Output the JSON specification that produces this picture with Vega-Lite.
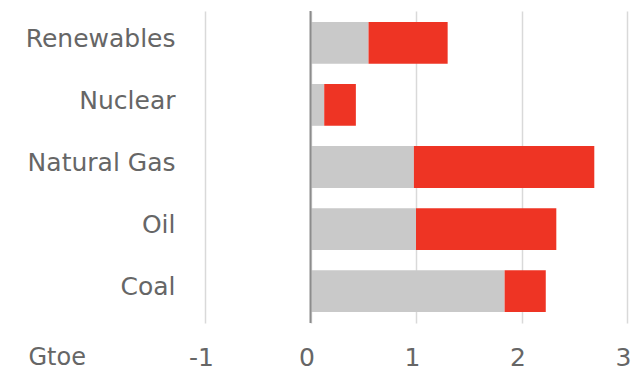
{
  "$schema": "https://vega.github.io/schema/vega-lite/v6.json",
  "width": 422,
  "height": 312,
  "autosize": {"type": "none"},
  "padding": {"left": 205, "top": 11, "right": 13, "bottom": 48},
  "config": {"view": {"stroke": null}, "font": "DejaVu Sans"},
  "data": {
    "values": [
      {"source": "Renewables", "series": "Base", "order": 1, "value": 0.55},
      {"source": "Renewables", "series": "Increase", "order": 2, "value": 0.75},
      {"source": "Nuclear", "series": "Base", "order": 1, "value": 0.13},
      {"source": "Nuclear", "series": "Increase", "order": 2, "value": 0.30},
      {"source": "Natural Gas", "series": "Base", "order": 1, "value": 0.98},
      {"source": "Natural Gas", "series": "Increase", "order": 2, "value": 1.71},
      {"source": "Oil", "series": "Base", "order": 1, "value": 1.0},
      {"source": "Oil", "series": "Increase", "order": 2, "value": 1.33},
      {"source": "Coal", "series": "Base", "order": 1, "value": 1.84},
      {"source": "Coal", "series": "Increase", "order": 2, "value": 0.39}
    ]
  },
  "layer": [
    {
      "mark": {"type": "bar"},
      "encoding": {
        "y": {
          "field": "source",
          "type": "nominal",
          "sort": ["Renewables", "Nuclear", "Natural Gas", "Oil", "Coal"],
          "scale": {"paddingInner": 0.327, "paddingOuter": 0.176},
          "axis": {
            "title": null,
            "domain": false,
            "ticks": false,
            "labelFontSize": 25,
            "labelColor": "#666666",
            "labelPadding": 30,
            "labelOffset": -4
          }
        },
        "x": {
          "field": "value",
          "type": "quantitative",
          "stack": "zero",
          "scale": {"domain": [-1, 3], "nice": false, "zero": false},
          "axis": {
            "values": [-1, 0, 1, 2, 3],
            "labelExpr": "datum.value < 0 ? '-' + abs(datum.value) : '' + datum.value",
            "labelFlush": false,
            "labelOffset": -4,
            "grid": true,
            "gridColor": "#d9d9d9",
            "gridWidth": 1.5,
            "domain": false,
            "ticks": false,
            "labelFontSize": 25,
            "labelColor": "#666666",
            "labelPadding": 22,
            "title": "Gtoe",
            "titleFontSize": 24,
            "titleFontWeight": "normal",
            "titleColor": "#666666",
            "titleAnchor": "start",
            "titleAlign": "left",
            "titleBaseline": "alphabetic",
            "titleX": -177,
            "titleY": 41
          }
        },
        "color": {
          "field": "series",
          "type": "nominal",
          "scale": {"domain": ["Base", "Increase"], "range": ["#c9c9c9", "#ee3424"]},
          "legend": null
        },
        "order": {"field": "order", "type": "quantitative"}
      }
    },
    {
      "data": {"values": [{"x": 0}]},
      "mark": {"type": "rule", "color": "#8c8c8c", "strokeWidth": 2},
      "encoding": {"x": {"field": "x", "type": "quantitative"}}
    }
  ]
}
